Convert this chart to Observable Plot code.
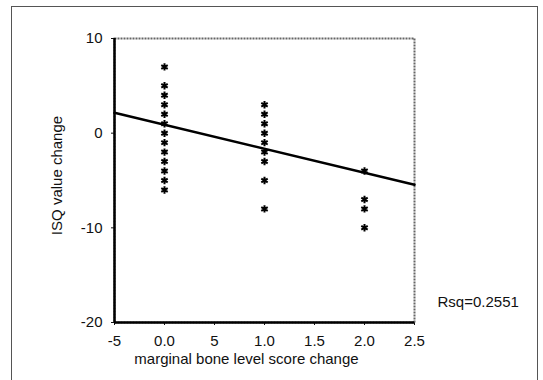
<!DOCTYPE html>
<html>
<head>
<meta charset="utf-8">
<script src="https://cdn.jsdelivr.net/npm/d3@7"></script>
<script src="https://cdn.jsdelivr.net/npm/@observablehq/plot@0.6"></script>
<style>
  html, body { margin: 0; padding: 0; background: #fff; }
  #wrap { position: relative; width: 543px; height: 380px; overflow: hidden; }
  #border { position: absolute; left: 11px; top: 6px; width: 525px; height: 420px;
            border: 1.5px solid #555; border-bottom: none; pointer-events: none; }
  svg { font-family: "Liberation Sans", Arial, sans-serif; }
</style>
</head>
<body>
<div id="wrap"><div id="border"></div></div>
<script>
// Data
const scoreChange = [0,0,0,0,0,0,0,0,0,0,0,0,0, 1,1,1,1,1,1,1,1,1, 2,2,2,2];
const isqChange   = [7,5,4,3,2,1,0,-1,-2,-3,-4,-5,-6, 3,2,1,0,-1,-2,-3,-5,-8, -4,-7,-8,-10];
const fitX = [-0.5, 2.5];
const fitY = [2.15, -5.44];
const xTicks = [-0.5, 0, 0.5, 1, 1.5, 2, 2.5];
const xTickLabels = ["-5", "0.0", "5", "1.0", "1.5", "2.0", "2.5"];
const yTicks = [-20, -10, 0, 10];
const yTickLabels = ["-20", "-10", "0", "10"];
const xTitle = "marginal bone level score change";
const yTitle = "ISQ value change";
const rsqLabel = "Rsq=0.2551";

const points = scoreChange.map((x, i) => ({x, y: isqChange[i]}));
const fit = fitX.map((x, i) => ({x, y: fitY[i]}));

const chart = Plot.plot({
  width: 543,
  height: 380,
  marginLeft: 114,
  marginRight: 129,
  marginTop: 38,
  marginBottom: 58,
  style: {fontFamily: "Liberation Sans, Arial, sans-serif", fontSize: "15px", color: "#111", background: "transparent"},
  x: {domain: [-0.5, 2.5], ticks: xTicks, tickFormat: (d) => xTickLabels[xTicks.indexOf(d)], tickSize: 3, tickPadding: 10, label: null},
  y: {domain: [-20, 10], ticks: yTicks, tickFormat: (d) => yTickLabels[yTicks.indexOf(d)], tickSize: 3, tickPadding: 9, label: null},
  marks: [
    Plot.frame({stroke: "#666", strokeWidth: 2, strokeDasharray: "2,1"}),
    Plot.ruleX([-0.5], {stroke: "#000", strokeWidth: 2.5}),
    Plot.ruleY([-20], {stroke: "#000", strokeWidth: 2.5}),
    Plot.line(fit, {x: "x", y: "y", stroke: "#000", strokeWidth: 2.5}),
    Plot.dot(points, {x: "x", y: "y", symbol: "asterisk", r: 3.5, stroke: "#000", strokeWidth: 2}),
    Plot.text([yTitle], {frameAnchor: "left", textAnchor: "middle", rotate: -90, dx: -57, dy: -5, fontSize: 15, fill: "#111"}),
    Plot.text([xTitle], {frameAnchor: "bottom", textAnchor: "middle", dx: -18, dy: 41, fontSize: 15, fill: "#111"}),
    Plot.text([rsqLabel], {frameAnchor: "bottom-right", textAnchor: "start", dx: 23, dy: -16, fontSize: 15, fill: "#111"})
  ]
});
document.getElementById("wrap").prepend(chart);
</script>
</body>
</html>
